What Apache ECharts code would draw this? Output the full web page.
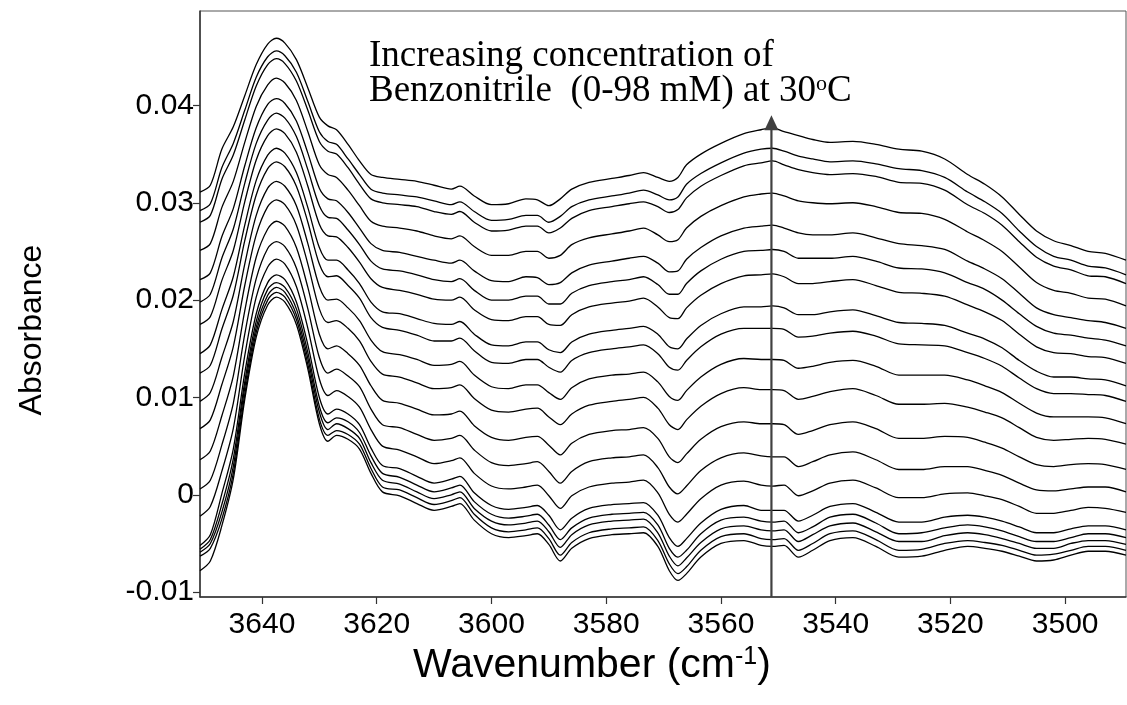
<!DOCTYPE html>
<html><head><meta charset="utf-8">
<script src="https://cdn.jsdelivr.net/npm/echarts@6/dist/echarts.min.js"></script>
<style>html,body{margin:0;padding:0;background:#fff}#c{width:1127px;height:705px}</style>
</head><body><div id="c"></div>
<script>
// Wavenumber (cm-1) sample positions
const wavenumber = [3650.8,3649,3647,3645,3643,3641,3639,3637.5,3636,3634,3632,3630,3628.5,3627,3625,3623,3621,3619,3616,3613,3610,3607,3605.5,3603,3600,3597,3594,3592,3590,3588,3586,3583,3579,3576,3573.5,3571,3569,3567.5,3566,3563.5,3560,3556,3553,3551,3549,3546.5,3544,3541,3537,3533,3529,3525,3521,3517,3514,3511,3508,3505,3502,3499,3496,3493,3489.4];
// Absorbance spectra, lowest (0 mM) to highest (98 mM) concentration
const absorbance00 = [-78e-4,-68e-4,-32e-4,16e-4,98e-4,162e-4,195e-4,203e-4,198e-4,175e-4,129e-4,73e-4,55e-4,61e-4,57e-4,47e-4,22e-4,3e-4,-1e-4,-9e-4,-16e-4,-12e-4,-9e-4,-26e-4,-40e-4,-44e-4,-42e-4,-40e-4,-51e-4,-68e-4,-55e-4,-45e-4,-41e-4,-40e-4,-39e-4,-53e-4,-78e-4,-88e-4,-81e-4,-64e-4,-50e-4,-47e-4,-52e-4,-53e-4,-52e-4,-64e-4,-57e-4,-47e-4,-44e-4,-53e-4,-64e-4,-63e-4,-57e-4,-53e-4,-55e-4,-58e-4,-63e-4,-68e-4,-67e-4,-62e-4,-58e-4,-58e-4,-62e-4];
const absorbance01 = [-63e-4,-55e-4,-25e-4,22e-4,103e-4,167e-4,200e-4,208e-4,203e-4,180e-4,134e-4,78e-4,61e-4,66e-4,62e-4,52e-4,27e-4,8e-4,5e-4,-3e-4,-10e-4,-6e-4,-3e-4,-20e-4,-34e-4,-38e-4,-36e-4,-34e-4,-45e-4,-62e-4,-49e-4,-39e-4,-35e-4,-34e-4,-33e-4,-47e-4,-71e-4,-81e-4,-74e-4,-57e-4,-43e-4,-40e-4,-45e-4,-46e-4,-45e-4,-57e-4,-50e-4,-40e-4,-37e-4,-46e-4,-57e-4,-56e-4,-50e-4,-47e-4,-49e-4,-52e-4,-57e-4,-62e-4,-61e-4,-57e-4,-53e-4,-53e-4,-57e-4];
const absorbance02 = [-59e-4,-50e-4,-18e-4,29e-4,110e-4,172e-4,205e-4,213e-4,208e-4,185e-4,140e-4,85e-4,67e-4,73e-4,68e-4,58e-4,33e-4,15e-4,11e-4,3e-4,-4e-4,0,3e-4,-14e-4,-27e-4,-31e-4,-29e-4,-27e-4,-38e-4,-54e-4,-41e-4,-31e-4,-27e-4,-26e-4,-25e-4,-39e-4,-63e-4,-73e-4,-65e-4,-49e-4,-35e-4,-32e-4,-36e-4,-37e-4,-36e-4,-48e-4,-41e-4,-32e-4,-29e-4,-38e-4,-48e-4,-48e-4,-42e-4,-39e-4,-41e-4,-45e-4,-50e-4,-55e-4,-55e-4,-50e-4,-47e-4,-47e-4,-51e-4];
const absorbance03 = [-56e-4,-46e-4,-10e-4,37e-4,116e-4,178e-4,211e-4,218e-4,213e-4,191e-4,146e-4,91e-4,74e-4,79e-4,75e-4,64e-4,40e-4,22e-4,18e-4,10e-4,3e-4,7e-4,10e-4,-7e-4,-20e-4,-24e-4,-22e-4,-20e-4,-31e-4,-46e-4,-34e-4,-24e-4,-20e-4,-19e-4,-18e-4,-31e-4,-55e-4,-64e-4,-57e-4,-40e-4,-26e-4,-23e-4,-27e-4,-28e-4,-27e-4,-39e-4,-33e-4,-23e-4,-20e-4,-29e-4,-40e-4,-39e-4,-34e-4,-31e-4,-33e-4,-37e-4,-43e-4,-48e-4,-48e-4,-44e-4,-40e-4,-40e-4,-44e-4];
const absorbance04 = [-52e-4,-41e-4,1e-4,47e-4,125e-4,186e-4,218e-4,226e-4,221e-4,198e-4,154e-4,100e-4,83e-4,88e-4,83e-4,72e-4,48e-4,30e-4,27e-4,19e-4,12e-4,16e-4,19e-4,2e-4,-11e-4,-15e-4,-13e-4,-11e-4,-21e-4,-36e-4,-24e-4,-14e-4,-10e-4,-9e-4,-8e-4,-21e-4,-44e-4,-53e-4,-45e-4,-29e-4,-15e-4,-11e-4,-16e-4,-16e-4,-16e-4,-27e-4,-21e-4,-12e-4,-9e-4,-18e-4,-28e-4,-28e-4,-23e-4,-21e-4,-23e-4,-27e-4,-33e-4,-39e-4,-39e-4,-35e-4,-32e-4,-32e-4,-36e-4];
const absorbance05 = [-22e-4,-12e-4,24e-4,68e-4,143e-4,203e-4,234e-4,242e-4,237e-4,214e-4,171e-4,119e-4,102e-4,107e-4,101e-4,90e-4,67e-4,50e-4,46e-4,39e-4,32e-4,35e-4,38e-4,22e-4,9e-4,6e-4,8e-4,10e-4,-1e-4,-14e-4,-1e-4,8e-4,12e-4,13e-4,15e-4,2e-4,-20e-4,-28e-4,-20e-4,-4e-4,10e-4,14e-4,10e-4,9e-4,10e-4,-1e-4,4e-4,12e-4,15e-4,7e-4,-3e-4,-3e-4,1e-4,2e-4,-1e-4,-5e-4,-12e-4,-19e-4,-19e-4,-16e-4,-13e-4,-14e-4,-18e-4];
const absorbance06 = [6e-4,15e-4,51e-4,94e-4,165e-4,222e-4,253e-4,260e-4,255e-4,233e-4,191e-4,141e-4,125e-4,129e-4,122e-4,111e-4,88e-4,72e-4,69e-4,62e-4,56e-4,58e-4,61e-4,46e-4,33e-4,30e-4,32e-4,34e-4,24e-4,12e-4,24e-4,34e-4,38e-4,39e-4,41e-4,28e-4,8e-4,1e-4,9e-4,25e-4,38e-4,43e-4,40e-4,39e-4,39e-4,29e-4,34e-4,41e-4,44e-4,36e-4,26e-4,26e-4,29e-4,29e-4,25e-4,20e-4,12e-4,5e-4,4e-4,6e-4,8e-4,8e-4,3e-4];
const absorbance07 = [36e-4,45e-4,81e-4,122e-4,189e-4,244e-4,273e-4,281e-4,276e-4,254e-4,213e-4,165e-4,150e-4,153e-4,145e-4,133e-4,112e-4,97e-4,94e-4,88e-4,82e-4,83e-4,86e-4,71e-4,59e-4,56e-4,59e-4,60e-4,51e-4,41e-4,53e-4,62e-4,66e-4,67e-4,69e-4,58e-4,39e-4,33e-4,42e-4,57e-4,70e-4,75e-4,73e-4,73e-4,72e-4,62e-4,66e-4,72e-4,75e-4,68e-4,58e-4,58e-4,60e-4,59e-4,54e-4,48e-4,39e-4,31e-4,29e-4,31e-4,32e-4,31e-4,26e-4];
const absorbance08 = [68e-4,77e-4,113e-4,152e-4,215e-4,267e-4,296e-4,303e-4,298e-4,277e-4,237e-4,191e-4,177e-4,179e-4,171e-4,158e-4,137e-4,124e-4,121e-4,115e-4,109e-4,110e-4,113e-4,99e-4,87e-4,85e-4,88e-4,89e-4,80e-4,72e-4,83e-4,92e-4,96e-4,98e-4,100e-4,89e-4,72e-4,67e-4,77e-4,91e-4,104e-4,110e-4,108e-4,108e-4,107e-4,98e-4,101e-4,106e-4,109e-4,102e-4,93e-4,93e-4,94e-4,90e-4,85e-4,79e-4,69e-4,59e-4,56e-4,57e-4,58e-4,57e-4,52e-4];
const absorbance09 = [96e-4,105e-4,141e-4,178e-4,237e-4,287e-4,315e-4,322e-4,317e-4,297e-4,258e-4,214e-4,200e-4,201e-4,192e-4,179e-4,159e-4,147e-4,144e-4,139e-4,133e-4,134e-4,137e-4,123e-4,111e-4,109e-4,113e-4,113e-4,105e-4,98e-4,110e-4,119e-4,123e-4,124e-4,126e-4,116e-4,101e-4,97e-4,107e-4,121e-4,134e-4,140e-4,139e-4,139e-4,138e-4,130e-4,132e-4,136e-4,138e-4,132e-4,123e-4,123e-4,123e-4,118e-4,112e-4,105e-4,94e-4,84e-4,80e-4,80e-4,80e-4,79e-4,73e-4];
const absorbance10 = [125e-4,133e-4,170e-4,205e-4,261e-4,308e-4,335e-4,342e-4,337e-4,317e-4,280e-4,237e-4,224e-4,225e-4,215e-4,202e-4,182e-4,172e-4,169e-4,164e-4,158e-4,158e-4,161e-4,148e-4,136e-4,135e-4,139e-4,139e-4,131e-4,126e-4,138e-4,146e-4,150e-4,152e-4,154e-4,145e-4,131e-4,128e-4,138e-4,152e-4,165e-4,171e-4,171e-4,171e-4,170e-4,162e-4,163e-4,166e-4,168e-4,163e-4,155e-4,154e-4,153e-4,146e-4,140e-4,132e-4,120e-4,109e-4,104e-4,104e-4,103e-4,102e-4,96e-4];
const absorbance11 = [145e-4,154e-4,190e-4,224e-4,277e-4,323e-4,349e-4,356e-4,351e-4,331e-4,295e-4,254e-4,241e-4,241e-4,231e-4,217e-4,198e-4,188e-4,186e-4,181e-4,176e-4,175e-4,178e-4,165e-4,154e-4,153e-4,157e-4,157e-4,149e-4,146e-4,157e-4,165e-4,169e-4,171e-4,173e-4,165e-4,152e-4,150e-4,160e-4,174e-4,186e-4,193e-4,193e-4,194e-4,192e-4,185e-4,185e-4,188e-4,190e-4,184e-4,177e-4,176e-4,174e-4,166e-4,160e-4,151e-4,138e-4,127e-4,121e-4,121e-4,119e-4,118e-4,112e-4];
const absorbance12 = [175e-4,183e-4,220e-4,251e-4,301e-4,344e-4,369e-4,376e-4,371e-4,352e-4,317e-4,278e-4,266e-4,265e-4,254e-4,239e-4,222e-4,213e-4,210e-4,206e-4,201e-4,200e-4,203e-4,190e-4,180e-4,179e-4,183e-4,183e-4,175e-4,174e-4,185e-4,193e-4,197e-4,199e-4,202e-4,193e-4,182e-4,181e-4,192e-4,205e-4,217e-4,225e-4,226e-4,227e-4,224e-4,217e-4,217e-4,219e-4,221e-4,215e-4,208e-4,207e-4,204e-4,195e-4,188e-4,179e-4,165e-4,152e-4,146e-4,145e-4,142e-4,141e-4,135e-4];
const absorbance13 = [198e-4,206e-4,243e-4,273e-4,320e-4,361e-4,385e-4,392e-4,387e-4,368e-4,334e-4,297e-4,285e-4,284e-4,272e-4,257e-4,240e-4,232e-4,230e-4,226e-4,221e-4,219e-4,222e-4,210e-4,200e-4,200e-4,204e-4,204e-4,196e-4,196e-4,207e-4,215e-4,219e-4,221e-4,224e-4,216e-4,206e-4,206e-4,217e-4,230e-4,242e-4,250e-4,251e-4,252e-4,250e-4,243e-4,243e-4,243e-4,245e-4,240e-4,233e-4,232e-4,228e-4,218e-4,211e-4,200e-4,186e-4,173e-4,166e-4,164e-4,161e-4,159e-4,153e-4];
const absorbance14 = [221e-4,228e-4,265e-4,294e-4,338e-4,377e-4,401e-4,407e-4,402e-4,384e-4,351e-4,315e-4,304e-4,302e-4,290e-4,274e-4,258e-4,251e-4,249e-4,245e-4,241e-4,238e-4,241e-4,230e-4,220e-4,219e-4,224e-4,223e-4,216e-4,218e-4,228e-4,236e-4,240e-4,243e-4,245e-4,238e-4,229e-4,230e-4,242e-4,254e-4,266e-4,274e-4,276e-4,277e-4,274e-4,269e-4,267e-4,267e-4,269e-4,264e-4,258e-4,256e-4,252e-4,240e-4,232e-4,222e-4,207e-4,192e-4,185e-4,182e-4,179e-4,177e-4,171e-4];
const absorbance15 = [251e-4,258e-4,295e-4,322e-4,362e-4,399e-4,421e-4,428e-4,423e-4,405e-4,373e-4,339e-4,329e-4,326e-4,313e-4,297e-4,281e-4,276e-4,274e-4,271e-4,266e-4,263e-4,266e-4,255e-4,246e-4,246e-4,250e-4,250e-4,243e-4,246e-4,257e-4,264e-4,268e-4,271e-4,274e-4,267e-4,260e-4,262e-4,274e-4,286e-4,297e-4,306e-4,309e-4,310e-4,307e-4,302e-4,300e-4,299e-4,300e-4,296e-4,290e-4,289e-4,283e-4,270e-4,261e-4,250e-4,234e-4,218e-4,210e-4,207e-4,202e-4,201e-4,194e-4];
const absorbance16 = [280e-4,287e-4,324e-4,349e-4,385e-4,420e-4,442e-4,448e-4,443e-4,425e-4,395e-4,363e-4,353e-4,350e-4,336e-4,319e-4,304e-4,300e-4,298e-4,296e-4,291e-4,288e-4,291e-4,280e-4,271e-4,272e-4,276e-4,276e-4,269e-4,274e-4,284e-4,292e-4,296e-4,299e-4,301e-4,296e-4,290e-4,293e-4,305e-4,317e-4,328e-4,338e-4,341e-4,343e-4,339e-4,334e-4,331e-4,329e-4,330e-4,327e-4,321e-4,320e-4,313e-4,298e-4,289e-4,277e-4,260e-4,244e-4,235e-4,231e-4,225e-4,224e-4,217e-4];
const absorbance17 = [292e-4,299e-4,336e-4,361e-4,395e-4,429e-4,450e-4,456e-4,451e-4,434e-4,404e-4,373e-4,363e-4,360e-4,345e-4,329e-4,314e-4,310e-4,308e-4,306e-4,302e-4,298e-4,301e-4,291e-4,282e-4,283e-4,287e-4,287e-4,280e-4,286e-4,296e-4,303e-4,307e-4,310e-4,313e-4,308e-4,303e-4,306e-4,319e-4,330e-4,341e-4,351e-4,355e-4,356e-4,353e-4,348e-4,345e-4,342e-4,343e-4,340e-4,335e-4,333e-4,326e-4,311e-4,301e-4,289e-4,271e-4,255e-4,245e-4,241e-4,235e-4,233e-4,226e-4];
const absorbance18 = [311e-4,318e-4,355e-4,378e-4,410e-4,442e-4,463e-4,469e-4,464e-4,447e-4,418e-4,388e-4,379e-4,375e-4,360e-4,343e-4,329e-4,326e-4,324e-4,322e-4,318e-4,314e-4,317e-4,307e-4,298e-4,299e-4,304e-4,303e-4,297e-4,304e-4,314e-4,321e-4,325e-4,328e-4,331e-4,326e-4,322e-4,326e-4,339e-4,350e-4,361e-4,371e-4,375e-4,377e-4,373e-4,369e-4,365e-4,362e-4,363e-4,360e-4,355e-4,353e-4,345e-4,329e-4,319e-4,306e-4,288e-4,271e-4,261e-4,256e-4,250e-4,248e-4,241e-4];

const xTickValues = [3640,3620,3600,3580,3560,3540,3520,3500];
const yTickValues = [-0.01,0,0.01,0.02,0.03,0.04];
const yTickLabels = ['-0.01','0','0.01','0.02','0.03','0.04'];
const xRange = [3489.4, 3650.8];
const yRange = [-0.0105, 0.0497];
const arrowWavenumber = 3551.2;
const arrowAbsorbance = [-0.0105, 0.0378];

const curves = [absorbance00,absorbance01,absorbance02,absorbance03,absorbance04,absorbance05,absorbance06,absorbance07,absorbance08,absorbance09,absorbance10,absorbance11,absorbance12,absorbance13,absorbance14,absorbance15,absorbance16,absorbance17,absorbance18];

const chart = echarts.init(document.getElementById('c'), null, {renderer:'canvas'});
const series = curves.map(c => ({
  type:'line', symbol:'none', smooth:0.3, silent:true, animation:false, z:3,
  lineStyle:{color:'#000', width:1.3},
  data: wavenumber.map((w,j) => [w, c[j]])
}));
series.push({
  type:'line', symbol:'none', silent:true, animation:false, z:4,
  lineStyle:{color:'#404040', width:2.2},
  data:[[arrowWavenumber, arrowAbsorbance[0]],[arrowWavenumber, arrowAbsorbance[1]]],
  markPoint:{silent:true, animation:false, symbol:'triangle', symbolSize:[14,15], symbolOffset:[0,-4],
    itemStyle:{color:'#404040'}, label:{show:false},
    data:[{coord:[arrowWavenumber, arrowAbsorbance[1]]}]}
});

chart.setOption({
  backgroundColor:'#fff',
  animation:false,
  grid:{left:200, top:11, width:926, height:586, show:true, borderColor:'#555', borderWidth:1, backgroundColor:'transparent'},
  xAxis:{type:'value', inverse:true, min:xRange[0], max:xRange[1],
    splitLine:{show:false},
    axisLine:{onZero:false, lineStyle:{color:'#333', width:1.5}},
    axisTick:{customValues:xTickValues, length:7, lineStyle:{color:'#333', width:1.2}},
    axisLabel:{customValues:xTickValues, color:'#000', fontSize:30, fontFamily:'Liberation Sans', margin:13,
      formatter: v => String(v)}},
  yAxis:{type:'value', min:yRange[0], max:yRange[1],
    splitLine:{show:false},
    axisLine:{show:true, onZero:false, lineStyle:{color:'#333', width:1.5}},
    axisTick:{show:true, customValues:yTickValues, length:7, lineStyle:{color:'#333', width:1.2}},
    axisLabel:{customValues:yTickValues, color:'#000', fontSize:30, fontFamily:'Liberation Sans', margin:6,
      formatter: v => { const k = yTickValues.findIndex(t => Math.abs(t - v) < 1e-9); return k >= 0 ? yTickLabels[k] : ''; }}},
  graphic:[
    {type:'text', left:369, top:38, silent:true, style:{text:'Increasing concentration of', fontSize:37, fontFamily:'Liberation Serif', fill:'#000'}},
    {type:'text', left:369, top:73, silent:true, style:{text:'Benzonitrile  (0-98 mM) at 30{s|o}C', fontSize:37, fontFamily:'Liberation Serif', fill:'#000',
      rich:{s:{fontSize:22, fontFamily:'Liberation Serif', verticalAlign:'top', fill:'#000'}}}},
    {type:'text', left:413, top:645, silent:true, style:{text:'Wavenumber (cm{s|-1})', fontSize:41, fontFamily:'Liberation Sans', fill:'#000',
      rich:{s:{fontSize:25, fontFamily:'Liberation Sans', verticalAlign:'top', fill:'#000'}}}},
    {type:'text', x:32, y:330, rotation:Math.PI/2, silent:true, style:{text:'Absorbance', fontSize:32, fontFamily:'Liberation Sans', fill:'#000', align:'center', verticalAlign:'middle'}}
  ],
  series: series
});
</script></body></html>
